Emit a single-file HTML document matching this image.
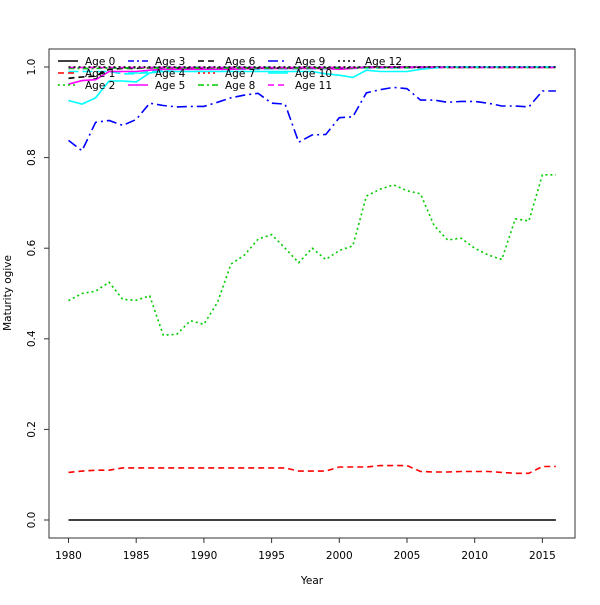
<!DOCTYPE html>
<html><head><meta charset="utf-8"><style>
body{margin:0;background:#fff}
svg text{font-family:"DejaVu Sans","Liberation Sans",sans-serif;font-size:10.5px;fill:#000}
</style></head><body>
<svg id="chart" width="600" height="600" xmlns="http://www.w3.org/2000/svg">
<rect width="600" height="600" fill="#fff"/>
<g id="plot"></g>
<rect x="49" y="49" width="526" height="489" fill="none" stroke="#333" stroke-width="1"/>
<g id="axes"></g>
<text x="312" y="584" text-anchor="middle">Year</text>
<text transform="translate(11,293) rotate(-90)" text-anchor="middle">Maturity ogive</text>
<g id="legend"></g>
</svg>
<script>
const years = [];
for (let y = 1980; y <= 2016; y++) years.push(y);
const xTicks = [1980, 1985, 1990, 1995, 2000, 2005, 2010, 2015];
const yTicks = [0, 0.2, 0.4, 0.6, 0.8, 1.0];
const yTickLabels = ["0.0", "0.2", "0.4", "0.6", "0.8", "1.0"];
const age0 = years.map(() => 0);
const age1 = [0.105,0.108,0.11,0.11,0.115,0.115,0.115,0.115,0.115,0.115,0.115,0.115,0.115,0.115,0.115,0.115,0.115,0.108,0.108,0.108,0.117,0.117,0.117,0.12,0.12,0.12,0.107,0.106,0.106,0.107,0.107,0.107,0.105,0.103,0.103,0.118,0.118];
const age2 = [0.484,0.5,0.505,0.525,0.487,0.485,0.495,0.408,0.41,0.44,0.432,0.48,0.565,0.585,0.62,0.63,0.6,0.568,0.6,0.575,0.595,0.605,0.715,0.73,0.74,0.727,0.72,0.65,0.618,0.622,0.6,0.585,0.575,0.665,0.66,0.762,0.762];
const age3 = [0.998,0.997,0.997,0.998,0.998,0.998,0.999,0.999,0.999,0.999,0.999,0.999,0.999,0.999,0.999,0.999,0.999,0.999,0.999,0.999,0.999,0.999,1,1,1,1,1,1,1,1,1,1,1,1,1,1,1];
const age4 = [0.99,0.99,0.99,0.99,0.985,0.985,0.99,0.993,0.995,0.995,0.995,0.995,0.995,0.995,0.995,0.996,0.996,0.996,0.996,0.996,0.996,0.997,0.998,0.998,0.998,0.998,0.999,1,1,1,1,1,1,1,1,1,1];
const age5 = [0.962,0.97,0.972,0.99,0.99,0.99,0.993,0.995,0.995,0.995,0.995,0.995,0.995,0.996,0.997,0.997,0.997,0.997,0.997,0.997,0.995,0.997,1,1,1,1,1,1,1,1,1,1,1,1,1,1,1];
const age6 = [0.975,0.978,0.98,0.995,0.997,0.997,0.998,0.998,0.998,0.998,0.998,0.998,0.998,0.998,0.998,0.998,0.998,0.998,0.998,0.998,0.998,0.998,0.999,0.999,0.999,0.999,0.999,0.999,0.999,0.999,0.999,0.999,0.999,0.999,0.999,0.999,0.999];
const age7 = [0.999,0.999,0.999,0.999,0.999,0.999,0.999,0.999,0.999,0.999,0.999,0.999,0.999,0.999,0.999,0.999,0.999,0.999,0.999,0.999,0.999,0.999,0.999,0.999,0.999,0.999,0.999,0.999,0.999,0.999,0.999,0.999,0.999,0.999,0.999,0.999,0.999];
const age8 = [0.997,0.997,0.997,0.998,0.998,0.998,0.998,0.998,0.998,0.998,0.998,0.998,0.998,0.998,0.998,0.998,0.998,0.998,0.998,0.998,0.998,0.998,0.999,0.999,0.999,0.999,0.999,0.999,0.999,0.999,0.999,0.999,0.999,0.999,0.999,0.999,0.999];
const age9 = [0.838,0.815,0.878,0.882,0.871,0.884,0.92,0.915,0.912,0.913,0.913,0.922,0.932,0.938,0.942,0.92,0.918,0.834,0.85,0.851,0.888,0.89,0.943,0.95,0.955,0.952,0.927,0.927,0.922,0.924,0.924,0.92,0.914,0.914,0.912,0.947,0.947];
const age10 = [0.926,0.918,0.932,0.969,0.969,0.967,0.987,0.99,0.99,0.99,0.99,0.99,0.99,0.99,0.99,0.99,0.99,0.99,0.99,0.985,0.982,0.977,0.993,0.99,0.99,0.99,0.995,0.998,1,1,1,1,1,1,1,1,1];
const age11 = [0.999,0.999,0.999,0.999,0.999,0.999,0.999,0.999,0.999,0.999,0.999,0.999,0.999,0.999,0.999,0.999,0.999,0.999,0.999,0.999,0.999,0.999,0.999,0.999,0.999,0.999,0.999,0.999,0.999,0.999,0.999,0.999,0.999,0.999,0.999,0.999,0.999];
const age12 = years.map(() => 1);
const seriesNames = ["Age 0","Age 1","Age 2","Age 3","Age 4","Age 5","Age 6","Age 7","Age 8","Age 9","Age 10","Age 11","Age 12"];
const seriesData = [age0,age1,age2,age3,age4,age5,age6,age7,age8,age9,age10,age11,age12];
const colors = ["#000","#f00","#0c0","#00f","#0ff","#f0f","#000","#f00","#0c0","#00f","#0ff","#f0f","#000"];
const dashes = ["","6,4","2,3","6,3,2,3","10,4","","6,4","2,3","6,3,2,3","10,4,2,4","","6,4","2,3"];

const NS = "http://www.w3.org/2000/svg";
const xScale = y => 68.5 + (y - 1980) * 13.54;
const yScale = v => 520 - v * 453;
const plot = document.getElementById("plot");
const axes = document.getElementById("axes");
const legend = document.getElementById("legend");
function mk(tag, attrs, parent) {
  const e = document.createElementNS(NS, tag);
  for (const k in attrs) e.setAttribute(k, attrs[k]);
  parent.appendChild(e);
  return e;
}
seriesData.forEach((d, i) => {
  const pts = d.map((v, j) => xScale(years[j]).toFixed(1) + "," + yScale(v).toFixed(1)).join(" ");
  const pl = mk("polyline", {points: pts, fill: "none", stroke: colors[i], "stroke-width": 1.6, "stroke-dasharray": dashes[i]}, plot);
  
  
});
xTicks.forEach(t => {
  const x = xScale(t);
  const l = mk("line", {x1: x, x2: x, y1: 538, y2: 543, stroke: "#333"}, axes);
  
  
  const tx = mk("text", {x: x, y: 559, "text-anchor": "middle"}, axes);
  tx.textContent = t;
  
  
});
yTicks.forEach((t, i) => {
  const y = yScale(t);
  const l = mk("line", {x1: 44, x2: 49, y1: y, y2: y, stroke: "#333"}, axes);
  
  
  const tx = mk("text", {transform: "translate(35," + y + ") rotate(-90)", "text-anchor": "middle"}, axes);
  tx.textContent = yTickLabels[i];
  
  
});
seriesNames.forEach((n, i) => {
  const col = Math.floor(i / 3), row = i % 3;
  const x0 = 58 + col * 70, y0 = 61 + row * 12;
  const g = mk("g", {}, legend);
  
  
  mk("line", {x1: x0, x2: x0 + 20, y1: y0, y2: y0, stroke: colors[i], "stroke-width": 1.6, "stroke-dasharray": dashes[i]}, g);
  const tx = mk("text", {x: x0 + 27, y: y0 + 4}, g);
  tx.textContent = n;
});
</script>
</body></html>
